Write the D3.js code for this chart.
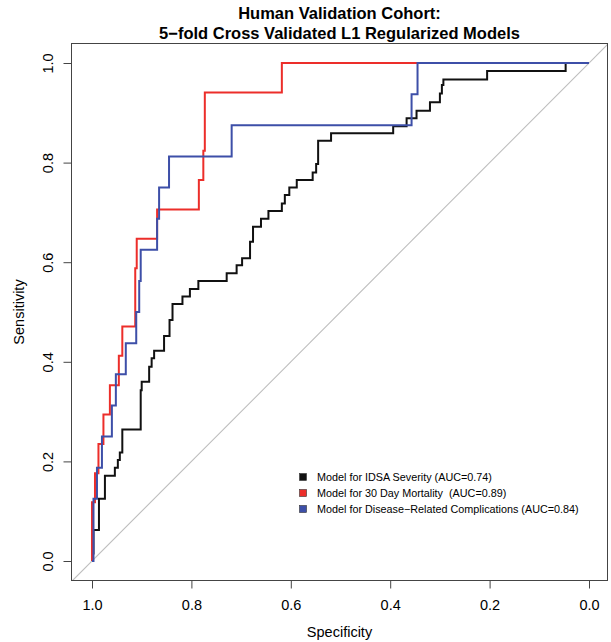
<!DOCTYPE html>
<html>
<head>
<meta charset="utf-8">
<script src="https://cdn.jsdelivr.net/npm/d3@7"></script>
<style>
  html, body { margin: 0; padding: 0; background: #fff; }
  svg { display: block; font-family: "Liberation Sans", Arial, Helvetica, sans-serif; }
</style>
</head>
<body>
<svg id="chart" width="611" height="642"></svg>
<script>
// ---- data (specificity, sensitivity stair points) ----
const titleLines = ["Human Validation Cohort:", "5\u2212fold Cross Validated L1 Regularized Models"];
const xTicks = [1.0, 0.8, 0.6, 0.4, 0.2, 0.0];
const yTicks = [0.0, 0.2, 0.4, 0.6, 0.8, 1.0];

const seriesNames = [
  "Model for IDSA Severity (AUC=0.74)",
  "Model for 30 Day Mortality  (AUC=0.89)",
  "Model for Disease\u2212Related Complications (AUC=0.84)"
];
const seriesColors = ["#111111", "#ec2e2a", "#3d4fa8"];

// IDSA severity: each vertical segment at spec[i] rises to sens[i]
const blackSpec = [1.000, 0.997, 0.986, 0.974, 0.954, 0.948, 0.944, 0.939, 0.902, 0.900,
                   0.885, 0.880, 0.875, 0.855, 0.844, 0.838, 0.818, 0.803, 0.786, 0.729,
                   0.709, 0.698, 0.682, 0.676, 0.660, 0.645, 0.618, 0.612, 0.603, 0.588,
                   0.556, 0.549, 0.545, 0.519, 0.394, 0.367, 0.347, 0.320, 0.300, 0.296,
                   0.293, 0.205, 0.047];
const blackSens = [0.015, 0.062, 0.125, 0.171, 0.187, 0.203, 0.218, 0.264, 0.343, 0.360,
                   0.390, 0.407, 0.422, 0.452, 0.484, 0.516, 0.531, 0.546, 0.562, 0.578,
                   0.594, 0.608, 0.641, 0.671, 0.687, 0.703, 0.718, 0.735, 0.750, 0.765,
                   0.780, 0.797, 0.844, 0.859, 0.873, 0.889, 0.904, 0.921, 0.939, 0.956,
                   0.967, 0.984, 1.000];

// 30 day mortality
const redSpec = [1.000, 0.994, 0.987, 0.977, 0.964, 0.946, 0.939, 0.913, 0.910, 0.869,
                 0.785, 0.776, 0.773, 0.618];
const redSens = [0.118, 0.176, 0.235, 0.294, 0.353, 0.412, 0.471, 0.588, 0.647, 0.706,
                 0.765, 0.824, 0.941, 1.000];

// Disease-related complications
const blueSpec = [1.000, 0.997, 0.990, 0.980, 0.960, 0.952, 0.932, 0.911, 0.905, 0.902,
                  0.869, 0.865, 0.845, 0.719, 0.357, 0.345];
const blueSens = [0.000, 0.125, 0.1875, 0.250, 0.3125, 0.375, 0.4375, 0.500, 0.5625, 0.625,
                  0.6875, 0.750, 0.8125, 0.875, 0.9375, 1.000];

// ---- layout ----
const svg = d3.select("#chart");
const box = { left: 71, right: 608, top: 43, bottom: 581 };
const x = d3.scaleLinear().domain([1, 0]).range([92, 589]);
const y = d3.scaleLinear().domain([0, 1]).range([561, 63]);
const FONT = "Liberation Sans, Arial, Helvetica, sans-serif";

svg.append("defs").append("clipPath").attr("id", "plotclip")
  .append("rect")
  .attr("x", box.left).attr("y", box.top)
  .attr("width", box.right - box.left).attr("height", box.bottom - box.top);

// title
svg.append("g").selectAll("text").data(titleLines).join("text")
  .attr("x", (box.left + box.right) / 2)
  .attr("y", (d, i) => 19 + i * 20)
  .attr("text-anchor", "middle")
  .attr("font-weight", "bold")
  .attr("font-size", "16.5px")
  .attr("fill", "#000")
  .text(d => d);

// diagonal reference line
const diag = [[1.06, -0.06], [-0.06, 1.06]];
svg.append("path")
  .attr("clip-path", "url(#plotclip)")
  .attr("d", d3.line().x(d => x(d[0])).y(d => y(d[1]))(diag))
  .attr("fill", "none")
  .attr("stroke", "#bdbdbd")
  .attr("stroke-width", 1.1);

// stair vertices from arrays
function stairs(spec, sens) {
  const pts = [];
  let prev = 0;
  for (let i = 0; i < spec.length; i++) {
    pts.push([spec[i], prev]);
    pts.push([spec[i], sens[i]]);
    prev = sens[i];
  }
  pts.push([0, prev]);
  return pts;
}
const series = [
  stairs(blackSpec, blackSens),
  stairs(redSpec, redSens),
  stairs(blueSpec, blueSens)
];
const line = d3.line().x(d => x(d[0])).y(d => y(d[1]));
svg.append("g").attr("clip-path", "url(#plotclip)")
  .selectAll("path").data(series).join("path")
  .attr("d", d => line(d))
  .attr("fill", "none")
  .attr("stroke", (d, i) => seriesColors[i])
  .attr("stroke-width", 2)
  .attr("stroke-linejoin", "miter");

// box
svg.append("rect")
  .attr("x", box.left + 0.5).attr("y", box.top + 0.5)
  .attr("width", box.right - box.left - 1).attr("height", box.bottom - box.top - 1)
  .attr("fill", "none").attr("stroke", "#444").attr("stroke-width", 1);

// x axis
const xAxis = d3.axisBottom(x).tickValues(xTicks).tickFormat(d3.format(".1f"))
  .tickSize(8).tickPadding(11);
const gx = svg.append("g").attr("transform", `translate(0,${box.bottom - 0.5})`).call(xAxis);
gx.select(".domain").remove();
gx.selectAll(".tick line").attr("stroke", "#444");
gx.selectAll(".tick text").attr("font-size", "14.5px").attr("font-family", FONT).attr("fill", "#000")
  .attr("dy", "0.71em");

// y axis (labels rotated as in R default)
const yAxis = d3.axisLeft(y).tickValues(yTicks).tickFormat(d3.format(".1f"))
  .tickSize(8).tickPadding(6);
const gy = svg.append("g").attr("transform", `translate(${box.left + 0.5},0)`).call(yAxis);
gy.select(".domain").remove();
gy.selectAll(".tick line").attr("stroke", "#444");
gy.selectAll(".tick text")
  .attr("font-size", "14.5px").attr("font-family", FONT).attr("fill", "#000")
  .attr("x", null).attr("dy", null)
  .attr("text-anchor", "middle")
  .attr("transform", "translate(-19,0) rotate(-90)")
  .attr("dominant-baseline", "auto")
  .attr("y", 0);

// axis titles
svg.append("text")
  .attr("x", (box.left + box.right) / 2).attr("y", 637)
  .attr("text-anchor", "middle").attr("font-size", "14.5px").attr("fill", "#000")
  .text("Specificity");
svg.append("text")
  .attr("transform", `translate(24,${(box.top + box.bottom) / 2}) rotate(-90)`)
  .attr("text-anchor", "middle").attr("font-size", "14.5px").attr("fill", "#000")
  .text("Sensitivity");

// legend
const legend = svg.append("g").selectAll("g").data(seriesNames).join("g")
  .attr("transform", (d, i) => `translate(303,${477 + i * 16})`);
legend.append("rect")
  .attr("x", -3.5).attr("y", -3.5).attr("width", 7).attr("height", 7)
  .attr("fill", (d, i) => seriesColors[i])
  .attr("stroke", "#333").attr("stroke-width", 0.6);
legend.append("text")
  .attr("x", 14).attr("y", 4)
  .attr("font-size", "10.8px").attr("fill", "#000")
  .style("white-space", "pre")
  .text(d => d);
</script>
</body>
</html>
